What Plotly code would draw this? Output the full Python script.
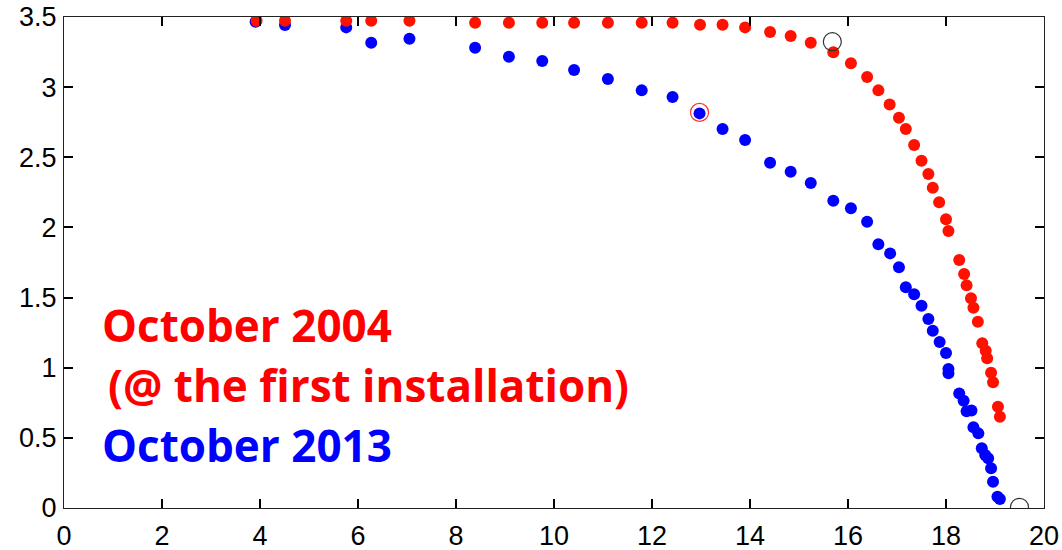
import plotly.graph_objects as go

# Measured points, October 2013 (blue)
x_2013 = [3.91, 4.51, 5.76, 6.27, 7.05, 8.39, 9.08, 9.76, 10.41, 11.10, 11.79, 12.42,
          12.97, 13.44, 13.90, 14.41, 14.83, 15.24, 15.70, 16.06, 16.39, 16.62, 16.86,
          17.04, 17.18, 17.35, 17.50, 17.64, 17.73, 17.87, 18.00, 18.05, 18.05, 18.27,
          18.36, 18.42, 18.52, 18.56, 18.66, 18.73, 18.80, 18.86, 18.92, 18.96, 19.05, 19.10]
y_2013 = [3.466, 3.443, 3.426, 3.317, 3.345, 3.281, 3.217, 3.186, 3.122, 3.058, 2.977, 2.929,
          2.813, 2.701, 2.623, 2.461, 2.397, 2.316, 2.190, 2.136, 2.041, 1.880, 1.815,
          1.716, 1.573, 1.523, 1.442, 1.347, 1.264, 1.183, 1.105, 0.991, 0.960, 0.817,
          0.765, 0.690, 0.695, 0.575, 0.532, 0.426, 0.378, 0.354, 0.283, 0.187, 0.081, 0.064]

# Measured points, October 2004 (red)
x_2004 = [3.93, 4.51, 5.76, 6.27, 7.05, 8.39, 9.08, 9.76, 10.41, 11.10, 11.79, 12.42,
          12.98, 13.44, 13.90, 14.41, 14.83, 15.24, 15.70, 16.06, 16.39, 16.62, 16.85,
          17.04, 17.18, 17.35, 17.50, 17.64, 17.73, 17.86, 18.00, 18.05, 18.27, 18.37,
          18.42, 18.51, 18.56, 18.65, 18.74, 18.81, 18.84, 18.92, 18.96, 19.06, 19.10]
y_2004 = [3.473, 3.473, 3.473, 3.473, 3.473, 3.459, 3.459, 3.459, 3.459, 3.459, 3.459, 3.459,
          3.445, 3.445, 3.426, 3.393, 3.364, 3.317, 3.248, 3.170, 3.072, 2.977, 2.877,
          2.782, 2.701, 2.587, 2.475, 2.381, 2.283, 2.180, 2.058, 1.974, 1.768, 1.668,
          1.587, 1.495, 1.428, 1.328, 1.174, 1.121, 1.067, 0.964, 0.896, 0.722, 0.651]

# Highlighted points (open circles)
mark_black_x = [15.68, 19.50]
mark_black_y = [3.324, 0.005]
mark_red_x = [12.97]
mark_red_y = [2.820]

x_ticks = [0, 2, 4, 6, 8, 10, 12, 14, 16, 18, 20]
y_ticks = [0, 0.5, 1, 1.5, 2, 2.5, 3, 3.5]
y_tick_text = ["0", "0.5", "1", "1.5", "2", "2.5", "3", "3.5"]

fig = go.Figure()
fig.add_trace(go.Scatter(x=x_2013, y=y_2013, mode="markers",
                         marker=dict(color="#0000ff", size=12), name="October 2013"))
fig.add_trace(go.Scatter(x=x_2004, y=y_2004, mode="markers",
                         marker=dict(color="#ff1100", size=12), name="October 2004"))
fig.add_trace(go.Scatter(x=mark_black_x, y=mark_black_y, mode="markers",
                         marker=dict(symbol="circle-open", color="#333333", size=18,
                                     line=dict(width=1.2)), name=""))
fig.add_trace(go.Scatter(x=mark_red_x, y=mark_red_y, mode="markers",
                         marker=dict(symbol="circle-open", color="#ff3333", size=18,
                                     line=dict(width=1.2)), name=""))

axis_common = dict(showgrid=False, zeroline=False, showline=True, linecolor="#222222",
                   linewidth=1, mirror="ticks", ticks="inside", ticklen=9, tickwidth=1.5,
                   tickcolor="#000000", automargin=False,
                   tickfont=dict(family="Liberation Sans", size=27, color="#000000"))

fig.update_xaxes(range=[0, 20], tickvals=x_ticks, ticklabelstandoff=4, **axis_common)
fig.update_yaxes(range=[0, 3.5], tickvals=y_ticks, ticktext=y_tick_text,
                 ticklabelstandoff=1, **axis_common)

label_font = "Open Sans"
label_size = 44
fig.add_annotation(x=0.037, y=0.373, xref="paper", yref="paper", xanchor="left",
                   yanchor="middle", showarrow=False, text="<b>October 2004</b>",
                   font=dict(family=label_font, size=label_size, color="#ff0000"))
fig.add_annotation(x=0.043, y=0.2505, xref="paper", yref="paper", xanchor="left",
                   yanchor="middle", showarrow=False,
                   text="<b>(@ the first installation)</b>",
                   font=dict(family=label_font, size=label_size, color="#ff0000"))
fig.add_annotation(x=0.037, y=0.128, xref="paper", yref="paper", xanchor="left",
                   yanchor="middle", showarrow=False, text="<b>October 2013</b>",
                   font=dict(family=label_font, size=label_size, color="#0000ff"))

fig.update_layout(width=1062, height=550, showlegend=False,
                  plot_bgcolor="white", paper_bgcolor="white",
                  margin=dict(l=64, r=18, t=17, b=42))

fig.write_html("out.html")
